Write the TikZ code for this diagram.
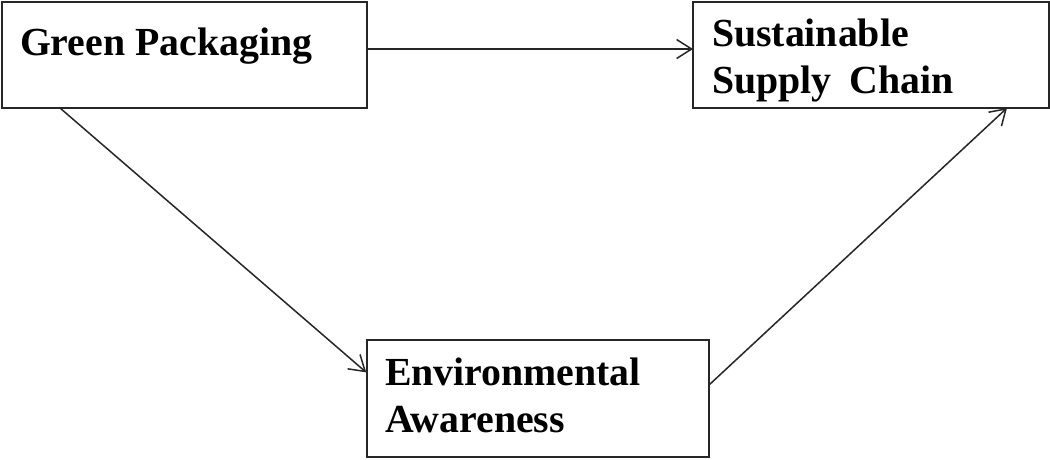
\documentclass[tikz,border=0pt]{standalone}
\usepackage{fontspec}
\setmainfont{Liberation Serif}
\usetikzlibrary{arrows.meta}
\begin{document}
\begin{tikzpicture}[x=1pt,y=-1pt,
  box/.style={draw=black!85,line width=2pt,inner sep=0pt,outer sep=0pt,anchor=north west},
  lbl/.style={inner sep=0pt,outer sep=0pt,anchor=base west,align=left,
    font=\fontsize{39.8}{47}\selectfont\bfseries},
  conn/.style={draw=black!85,line width=1.5pt,
    -{Straight Barb[length=15pt,width=19pt,line width=1.5pt]}}]
\useasboundingbox (0,0) rectangle (1050,459);
\fill[white] (0,0) rectangle (1050,459);
\node[box,minimum width=365.5pt,minimum height=106.5pt] (gp) at (1.5,1.5) {};
\node[box,minimum width=355.5pt,minimum height=106.5pt] (ssc) at (693,1.5) {};
\node[box,minimum width=342pt,minimum height=117pt] (ea) at (367,340) {};
\node[lbl] (gpt) at (20,55) {Green Packaging};
\node[lbl] (ssct1) at (712,46) {Sustainable};
\node[lbl] (ssct2) at (712,93) {Supply\hspace{0.45em}Chain};
\node[lbl] (eat1) at (385,385) {Environmental};
\node[lbl] (eat2) at (385,432) {Awareness};
\draw[conn] ([yshift=5.75pt]gp.east) -- (ssc.west |- 0,49);
\draw[conn,shorten >=1pt] ([xshift=58.5pt]gp.south west) -- ([yshift=25.5pt]ea.west);
\draw[conn] ([yshift=13.5pt]ea.east) -- ([xshift=314pt]ssc.south west);
\end{tikzpicture}
\end{document}
